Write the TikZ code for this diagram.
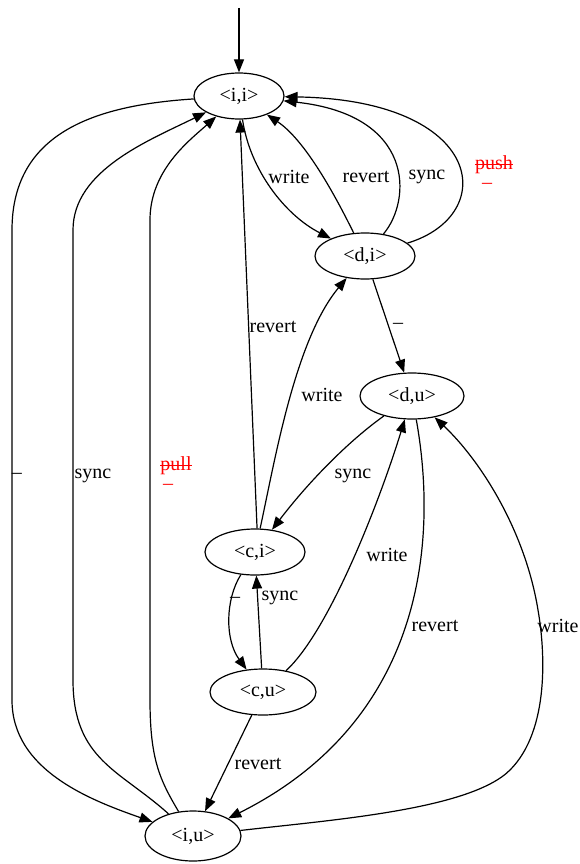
\documentclass[tikz,border=0pt]{standalone}
\usepackage{fontspec}
\setmainfont{Liberation Serif}
\usetikzlibrary{arrows.meta,shapes.geometric}
\begin{document}
\begin{tikzpicture}[x=1pt,y=-1pt,
  state/.style={ellipse,draw,line width=1.2pt,inner sep=0pt,minimum height=46pt,font=\fontsize{20}{23}\selectfont},
  conn/.style={draw,line width=1.2pt,-{Triangle[length=13pt,width=10pt]}},
  lbl/.style={inner sep=0pt,font=\fontsize{20}{23}\selectfont},
  rlbl/.style={lbl,text=red},
  strike/.style={draw=red,line width=1.2pt}]
\useasboundingbox (0,0) rectangle (579,864);
\node[state,minimum width=90pt] (ii) at (239,96) {<i,i>};
\node[state,minimum width=100pt] (di) at (365,256) {<d,i>};
\node[state,minimum width=104pt] (du) at (412,396) {<d,u>};
\node[state,minimum width=100pt] (ci) at (255,552) {<c,i>};
\node[state,minimum width=106pt] (cu) at (263,692) {<c,u>};
\node[state,minimum width=96pt,minimum height=50pt] (iu) at (193,836) {<i,u>};
\coordinate (start) at (239,8);
% edges
\draw[conn] (start) -- (ii);
\draw[conn] (ii) .. controls (250,170) and (285,215) .. (di);
\draw[conn] (di) .. controls (335,195) and (305,140) .. (ii);
\draw[conn] (di) .. controls (412,200) and (415,115) .. (ii);
\draw[conn] (di) .. controls (500,215) and (485,100) .. (ii);
\draw[conn] (di) -- (du);
\draw[conn] (du) .. controls (350,440) and (310,480) .. (ci);
\draw[conn] (ci) .. controls (275,460) and (295,340) .. (di);
\draw[conn] (ci.85) -- (ii);
\draw[conn] (ci) .. controls (225,600) and (225,640) .. (cu);
\draw[conn] (cu) -- (ci);
\draw[conn] (cu) .. controls (330,630) and (380,500) .. (du);
\draw[conn] (cu) -- (iu);
\draw[conn] (du) .. controls (438,540) and (425,720) .. (iu);
\draw[conn] (iu) .. controls (330,820) and (470,810) .. (510,770) .. controls (550,730) and (545,650) .. (538,610) .. controls (525,530) and (480,460) .. (du);
\draw[conn] (ii) .. controls (100,105) and (12,130) .. (12,230) -- (12,700) .. controls (12,770) and (90,800) .. (iu);
\draw[conn] (iu) .. controls (120,770) and (73,760) .. (73,680) -- (73,230) .. controls (73,170) and (150,140) .. (ii);
\draw[conn] (iu) .. controls (160,780) and (150,760) .. (150,700) -- (150,220) .. controls (150,170) and (190,140) .. (ii);
% labels
\node[lbl] (l1) at (289,177) {write};
\node[lbl] (l2) at (366,177) {revert};
\node[lbl] (l3) at (427,177) {sync};
\node[rlbl] (l4) at (494,165) {push};
\draw[strike] ([yshift=5pt]l4.base west) -- ([yshift=5pt]l4.base east);
\node[rlbl] (l4b) at (487,186) {–};
\node[lbl] (l5) at (398,326) {–};
\node[lbl] (l6) at (273,327) {revert};
\node[lbl] (l7) at (322,395) {write};
\node[lbl] (l8) at (353,476) {sync};
\node[lbl] (l9) at (17,476) {–};
\node[lbl] (l10) at (93,476) {sync};
\node[rlbl] (l11) at (176,466) {pull};
\draw[strike] ([yshift=5pt]l11.base west) -- ([yshift=5pt]l11.base east);
\node[rlbl] (l11b) at (168,487) {–};
\node[lbl] (l12) at (387,555) {write};
\node[lbl] (l13) at (235,600) {–};
\node[lbl] (l14) at (280,598) {sync};
\node[lbl] (l15) at (435,626) {revert};
\node[lbl] (l16) at (558,626) {write};
\node[lbl] (l17) at (258,764) {revert};
\end{tikzpicture}
\end{document}
